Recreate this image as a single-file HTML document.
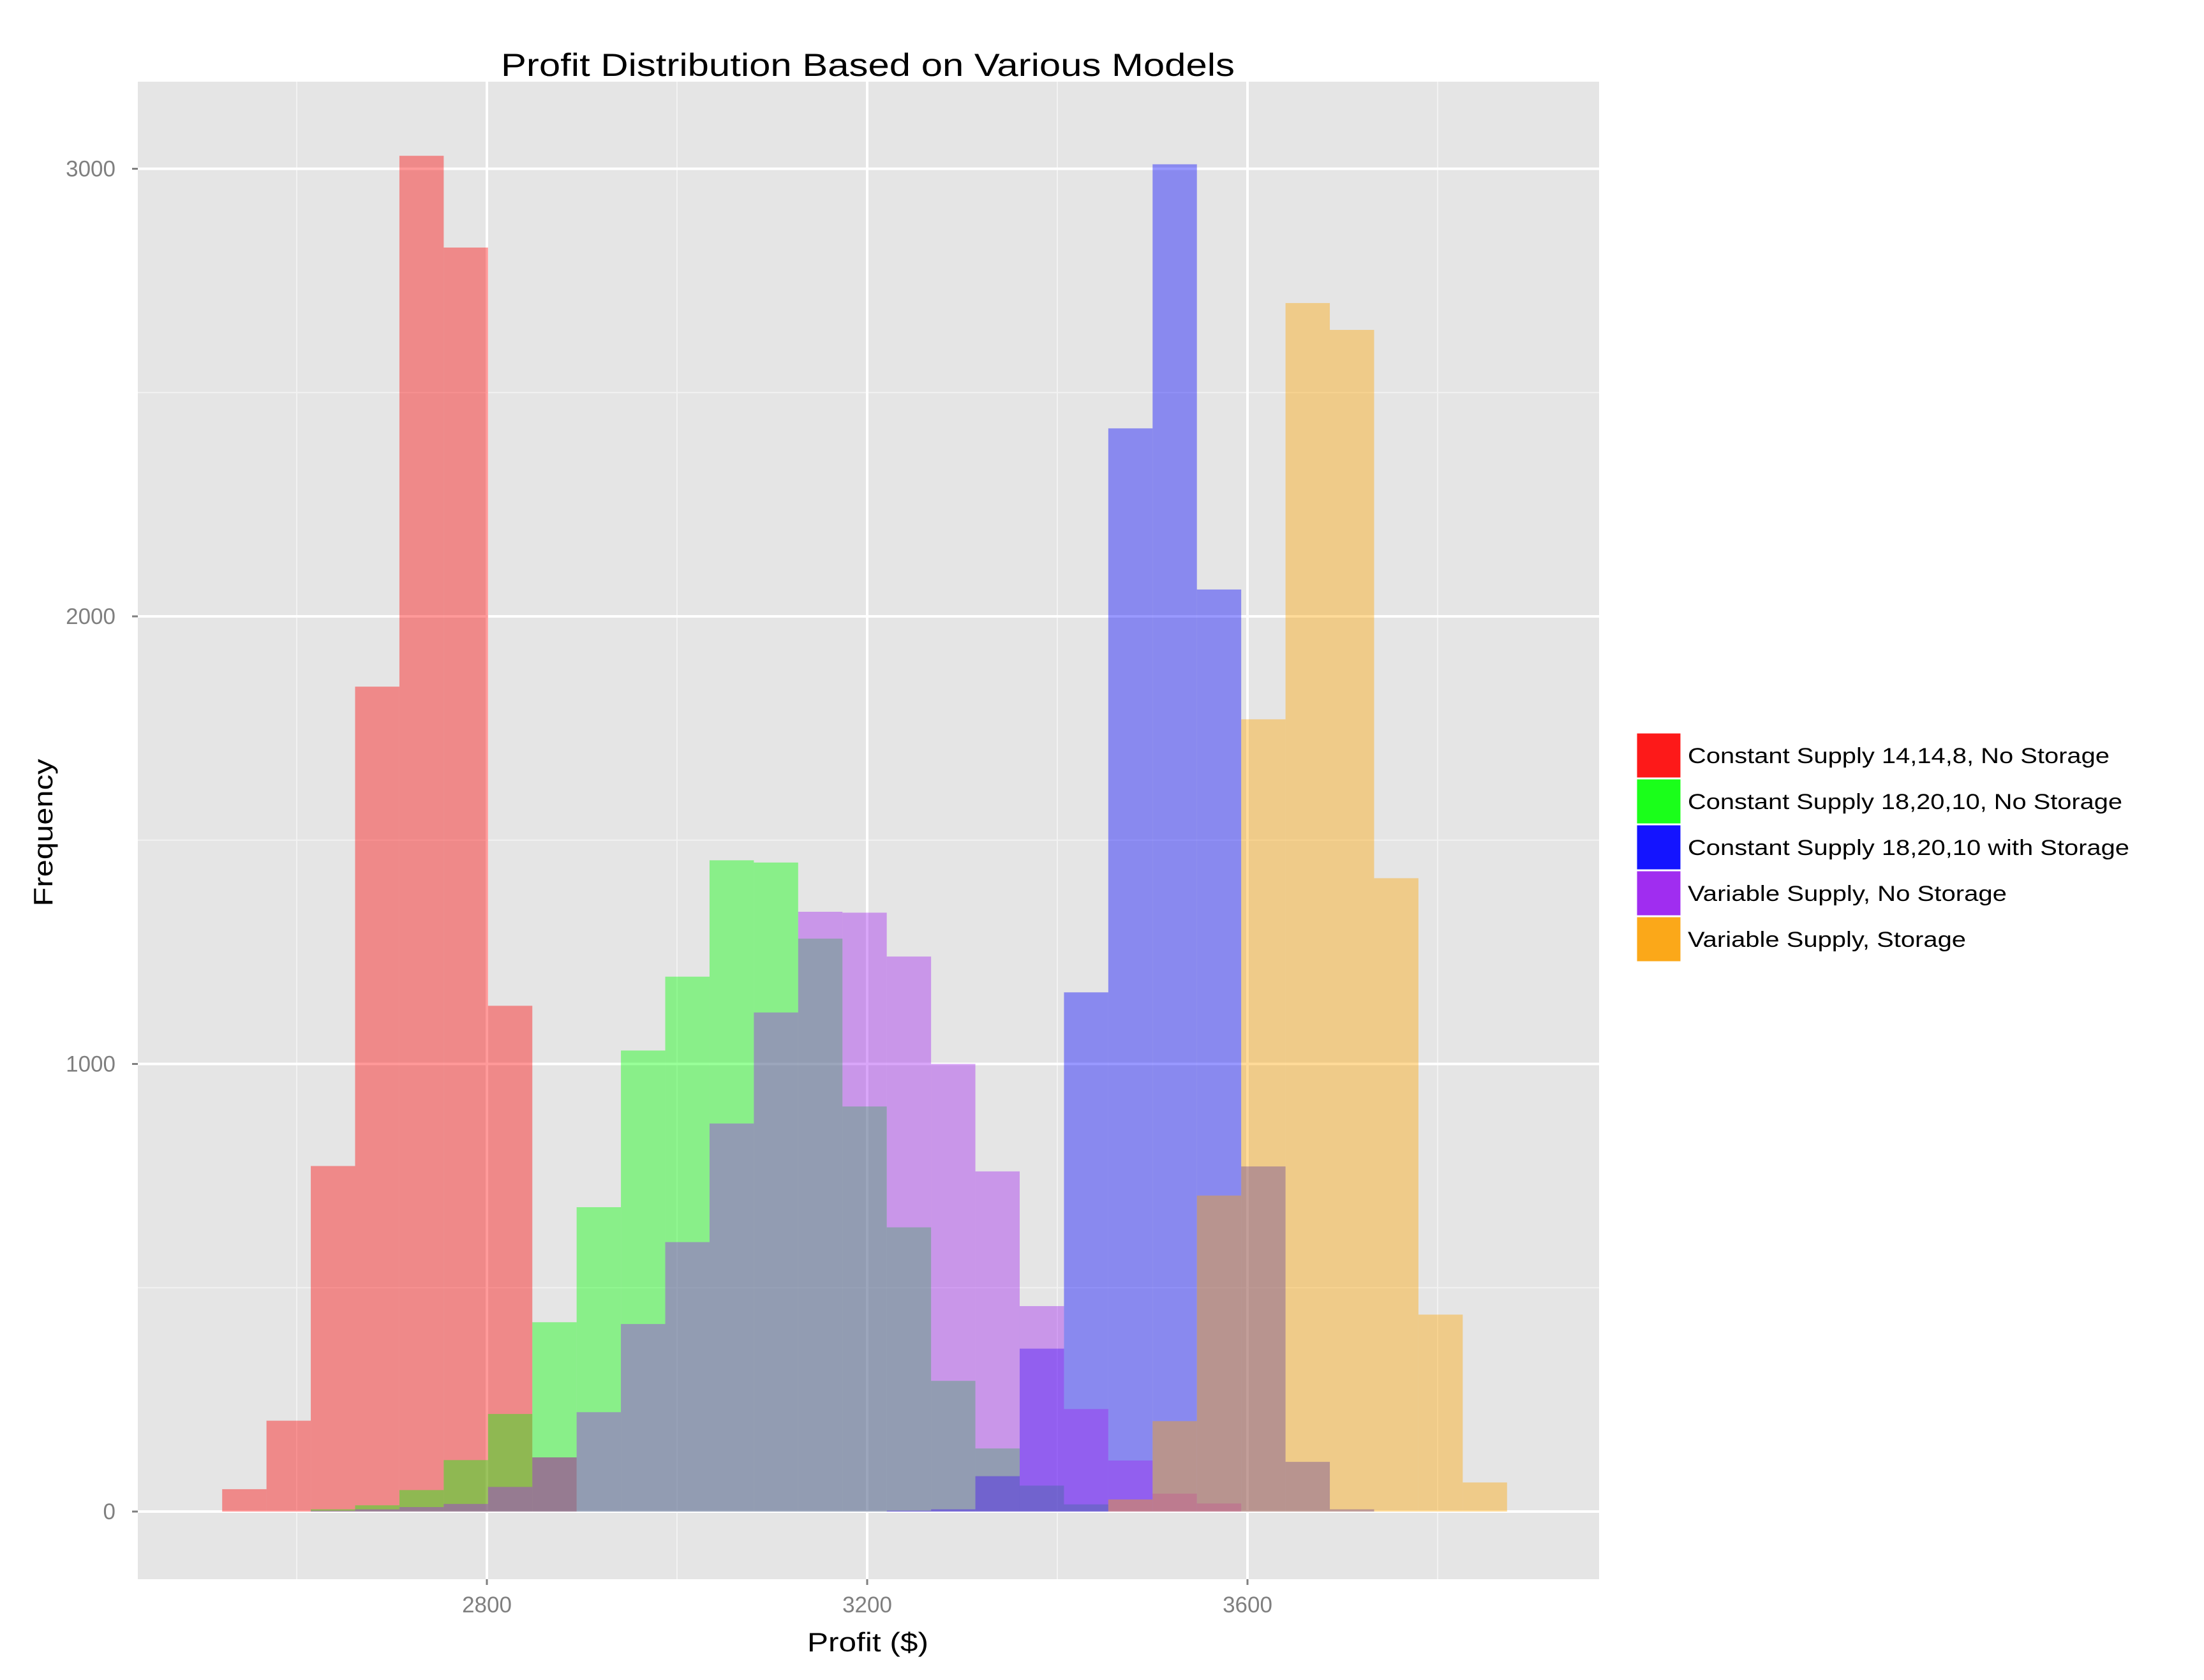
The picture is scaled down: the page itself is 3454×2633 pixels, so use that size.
<!DOCTYPE html>
<html><head><meta charset="utf-8"><style>
html,body{margin:0;padding:0;background:#fff}
svg{display:block}
text{font-family:"Liberation Sans",Arial,sans-serif}
</style></head><body>
<svg id="chart" width="3454" height="2633" viewBox="0 0 3454 2633" xmlns="http://www.w3.org/2000/svg">
<rect x="0" y="0" width="3454" height="2633" fill="#ffffff"/>
<rect x="216" y="128" width="2290" height="2347" fill="#e5e5e5"/>
<g id="grid"></g>
<g id="bars"></g>
<g id="axes"></g>
<text x="1360" y="119" font-size="50" text-anchor="middle" textLength="1150" lengthAdjust="spacingAndGlyphs">Profit Distribution Based on Various Models</text>
<text x="1360" y="2588" font-size="42" text-anchor="middle" textLength="190" lengthAdjust="spacingAndGlyphs">Profit ($)</text>
<text x="0" y="0" font-size="42" text-anchor="middle" textLength="231" lengthAdjust="spacingAndGlyphs" transform="translate(82,1305) rotate(-90)">Frequency</text>
<g id="legend"></g>
</svg>
<script>
const binStart = 2521.6;
const binWidth = 46.6;
const seriesNames = ["Constant Supply 14,14,8, No Storage","Constant Supply 18,20,10, No Storage","Constant Supply 18,20,10 with Storage","Variable Supply, No Storage","Variable Supply, Storage"];
const seriesColors = ["#ff0000","#00ff00","#0000ff","#a020f0","#ffa500"];
const legendColors = ["#fd1919","#1aff1a","#1414ff","#a02df0","#fba819"];
const legendWidths = [661,681,692,500,436];
const redCounts    = [50,203,772,1843,3029,2824,1130,121];
const greenCounts  = [0,0,5,14,48,115,218,423,680,1030,1195,1455,1450,1280,905,635,292,141,58,16];
const blueCounts   = [0,0,0,0,0,0,0,0,0,0,0,0,0,0,0,2,5,79,364,1160,2420,3010,2060,771,111,5];
const purpleCounts = [0,0,2,5,10,17,55,121,222,419,602,867,1115,1340,1338,1240,1000,760,459,229,114,40,18];
const orangeCounts = [0,0,0,0,0,0,0,0,0,0,0,0,0,0,0,0,0,0,0,0,27,202,706,1770,2700,2640,1415,440,65];
const xMajorTicks = [2800,3200,3600];
const xMinorTicks = [2600,3000,3400,3800];
const yMajorTicks = [0,1000,2000,3000];
const yMinorTicks = [500,1500,2500];
const allCounts = [redCounts,greenCounts,blueCounts,purpleCounts,orangeCounts];

const NS="http://www.w3.org/2000/svg";
const panel={l:216,r:2506,t:128,b:2475};
function xS(v){return 763+(v-2800)*1.49;}
function yS(v){return 2369-v*0.7015;}
function mk(tag,attrs,parent){const e=document.createElementNS(NS,tag);for(const k in attrs)e.setAttribute(k,attrs[k]);parent.appendChild(e);return e;}

const grid=document.getElementById('grid');
yMinorTicks.forEach(v=>{const l=mk('line',{x1:panel.l,x2:panel.r,y1:yS(v),y2:yS(v),stroke:'#f2f2f2','stroke-width':2},grid);

});
xMinorTicks.forEach(v=>{const l=mk('line',{x1:xS(v),x2:xS(v),y1:panel.t,y2:panel.b,stroke:'#f2f2f2','stroke-width':2},grid);

});
yMajorTicks.forEach(v=>{const l=mk('line',{x1:panel.l,x2:panel.r,y1:yS(v),y2:yS(v),stroke:'#ffffff','stroke-width':4},grid);

});
xMajorTicks.forEach(v=>{const l=mk('line',{x1:xS(v),x2:xS(v),y1:panel.t,y2:panel.b,stroke:'#ffffff','stroke-width':4},grid);

});

const bars=document.getElementById('bars');
allCounts.forEach((counts,s)=>{
  const g=mk('g',{},bars);
  
  
  counts.forEach((c,i)=>{
    if(c<=0)return;
    const x0=xS(binStart+i*binWidth), x1=xS(binStart+(i+1)*binWidth);
    const r=mk('rect',{x:x0,y:yS(c),width:x1-x0,height:yS(0)-yS(c),fill:seriesColors[s],'fill-opacity':0.4},g);
    
    
  });
});

const axes=document.getElementById('axes');
yMajorTicks.forEach(v=>{
  const t=mk('line',{x1:panel.l-9,x2:panel.l,y1:yS(v),y2:yS(v),stroke:'#7f7f7f','stroke-width':3},axes);
  
  
  const tx=mk('text',{x:181,y:yS(v)+12,'font-size':35,fill:'#7f7f7f','text-anchor':'end'},axes);
  
  
  tx.textContent=String(v);
});
xMajorTicks.forEach(v=>{
  const t=mk('line',{x1:xS(v),x2:xS(v),y1:panel.b,y2:panel.b+9,stroke:'#7f7f7f','stroke-width':3},axes);
  
  
  const tx=mk('text',{x:xS(v),y:panel.b+52,'font-size':35,fill:'#7f7f7f','text-anchor':'middle'},axes);
  
  
  tx.textContent=String(v);
});

const legend=document.getElementById('legend');
seriesNames.forEach((n,i)=>{
  const y=1148+i*72;
  const k=mk('rect',{x:2564,y:y,width:71,height:72,fill:legendColors[i],stroke:'#ffffff','stroke-width':3},legend);
  
  
  const t=mk('text',{x:2645,y:y+48,'font-size':34,fill:'#000','textLength':legendWidths[i],'lengthAdjust':'spacingAndGlyphs'},legend);
  
  
  t.textContent=n;
});
</script>
</body></html>
